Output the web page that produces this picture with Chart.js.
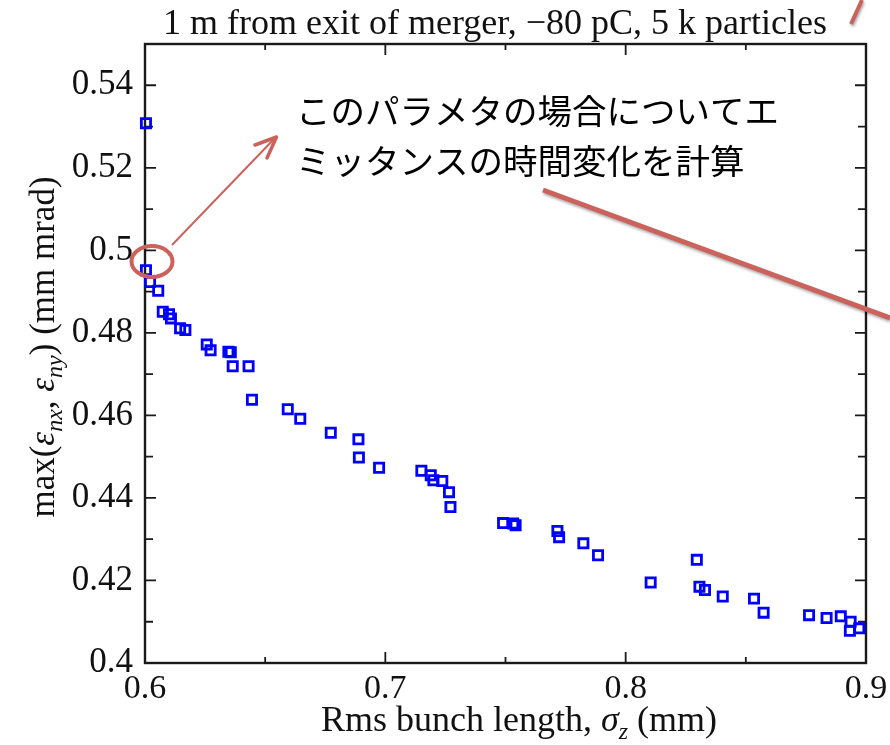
<!DOCTYPE html>
<html>
<head>
<meta charset="utf-8">
<script src="https://cdn.jsdelivr.net/npm/chart.js@4/dist/chart.umd.min.js"></script>
<style>
  html, body { margin: 0; padding: 0; background: #fff; }
  #wrap { width: 890px; height: 745px; }
</style>
</head>
<body>
<div id="wrap"><canvas id="c" width="890" height="745"></canvas></div>
<script>
// Rms bunch length sigma_z (mm) for each simulated parameter set
const sigmaZ = [
  0.6004, 0.6004, 0.6021, 0.6055, 0.6074, 0.6100, 0.6108, 0.6146, 0.6168, 0.6257,
  0.6273, 0.6347, 0.6357, 0.6365, 0.6431, 0.6445, 0.6594, 0.6646, 0.6773, 0.6888,
  0.6890, 0.6974, 0.7150, 0.7189, 0.7200, 0.7237, 0.7265, 0.7271, 0.7490, 0.7532,
  0.7542, 0.7716, 0.7723, 0.7824, 0.7885, 0.8104, 0.8296, 0.8307, 0.8330, 0.8404,
  0.8534, 0.8574, 0.8763, 0.8836, 0.8895, 0.8936, 0.8933, 0.8972
];
// max(eps_nx, eps_ny) in mm mrad for the same parameter sets
const maxEmittance = [
  0.5308, 0.4952, 0.4923, 0.4902, 0.4851, 0.4845, 0.4835, 0.4811, 0.4807, 0.4772,
  0.4758, 0.4754, 0.4753, 0.4719, 0.4719, 0.4638, 0.4615, 0.4592, 0.4558, 0.4542,
  0.4498, 0.4473, 0.4466, 0.4455, 0.4443, 0.4441, 0.4414, 0.4378, 0.4339, 0.4338,
  0.4334, 0.4320, 0.4305, 0.4290, 0.4261, 0.4195, 0.4250, 0.4185, 0.4177, 0.4161,
  0.4156, 0.4122, 0.4116, 0.4109, 0.4113, 0.4100, 0.4078, 0.4084
];

// Axis ticks: labelled majors and unlabelled minors
const xMajor = [0.6, 0.7, 0.8, 0.9];
const xMinor = [0.65, 0.75, 0.85];
const yMajor = [0.4, 0.42, 0.44, 0.46, 0.48, 0.5, 0.52, 0.54];
const yMinor = [0.41, 0.43, 0.45, 0.47, 0.49, 0.51, 0.53];

const chartTitle = '1 m from exit of merger, \u221280 pC, 5 k particles';
const noteLines = ['このパラメタの場合についてエ', 'ミッタンスの時間変化を計算'];

const SERIF = '"Liberation Serif", "DejaVu Serif", serif';
const NOTE_RED = 'rgb(203, 98, 92)';

const points = sigmaZ.map((x, i) => ({ x, y: maxEmittance[i] }));

const isMajor = (list, v) => list.some(m => Math.abs(m - v) < 1e-9);
const fmt = v => String(+v.toFixed(2));

function setTicks(major, minor) {
  return scale => {
    scale.ticks = major.concat(minor).sort((a, b) => a - b).map(v => ({ value: v }));
  };
}

// Boxed frame with inward ticks on all four sides
const frameTicks = {
  id: 'frameTicks',
  beforeDatasetsDraw(chart) {
    const { ctx, chartArea: a, scales: { x, y } } = chart;
    ctx.save();
    ctx.strokeStyle = '#1a1a1a';
    ctx.lineWidth = 1.8;
    ctx.beginPath();
    xMajor.concat(xMinor).forEach(v => {
      const px = x.getPixelForValue(v);
      const L = isMajor(xMajor, v) ? 11 : 6;
      ctx.moveTo(px, a.bottom); ctx.lineTo(px, a.bottom - L);
      ctx.moveTo(px, a.top); ctx.lineTo(px, a.top + L);
    });
    yMajor.concat(yMinor).forEach(v => {
      const py = y.getPixelForValue(v);
      const L = isMajor(yMajor, v) ? 11 : 8;
      ctx.moveTo(a.left, py); ctx.lineTo(a.left + L, py);
      ctx.moveTo(a.right, py); ctx.lineTo(a.right - L, py);
    });
    ctx.stroke();
    ctx.lineWidth = 2.4;
    ctx.strokeRect(a.left, a.top, a.right - a.left, a.bottom - a.top);
    ctx.restore();
  }
};

// Draw a run of text pieces (some italic / subscript) centred on (0,0)
function drawRich(ctx, parts, size) {
  const fontOf = p => `${p.italic ? 'italic ' : ''}${p.sub ? Math.round(size * 0.68) : size}px ${SERIF}`;
  let total = 0;
  parts.forEach(p => { ctx.font = fontOf(p); p.w = ctx.measureText(p.t).width; total += p.w; });
  let cx = -total / 2;
  ctx.textBaseline = 'alphabetic';
  ctx.textAlign = 'left';
  parts.forEach(p => {
    ctx.font = fontOf(p);
    ctx.fillText(p.t, cx, p.sub ? size * 0.22 : 0);
    cx += p.w;
  });
}

// Titles and the slide's callout annotations
const overlay = {
  id: 'overlay',
  afterDraw(chart) {
    const { ctx } = chart;
    ctx.save();
    ctx.fillStyle = '#111';

    // plot title
    ctx.font = `36px ${SERIF}`;
    ctx.textAlign = 'center';
    ctx.textBaseline = 'alphabetic';
    ctx.fillText(chartTitle, 495, 34);

    // x-axis title
    ctx.save();
    ctx.translate(519, 731);
    drawRich(ctx, [
      { t: 'Rms bunch length, ' },
      { t: '\u03c3', italic: true },
      { t: 'z', italic: true, sub: true },
      { t: ' (mm)' }
    ], 36);
    ctx.restore();

    // y-axis title
    ctx.save();
    ctx.translate(54, 347);
    ctx.rotate(-Math.PI / 2);
    drawRich(ctx, [
      { t: 'max(' },
      { t: '\u03b5', italic: true },
      { t: 'nx', italic: true, sub: true },
      { t: ', ' },
      { t: '\u03b5', italic: true },
      { t: 'ny', italic: true, sub: true },
      { t: ') (mm mrad)' }
    ], 35);
    ctx.restore();

    // callout text
    ctx.font = '34.5px "Noto Sans CJK JP", sans-serif';
    ctx.textAlign = 'left';
    ctx.textBaseline = 'middle';
    ctx.fillStyle = '#000';
    ctx.fillText(noteLines[0], 296, 111);
    ctx.fillText(noteLines[1], 296, 161);

    // ellipse around the chosen point
    ctx.strokeStyle = NOTE_RED;
    ctx.lineWidth = 4;
    ctx.beginPath();
    ctx.ellipse(152, 261.5, 20.5, 15.5, 0, 0, Math.PI * 2);
    ctx.stroke();

    // arrow to the callout
    ctx.lineWidth = 2;
    ctx.beginPath();
    ctx.moveTo(172, 245);
    ctx.lineTo(275, 138);
    ctx.stroke();
    ctx.lineWidth = 3.5;
    ctx.lineCap = 'round';
    ctx.lineJoin = 'round';
    ctx.beginPath();
    ctx.moveTo(255, 145);
    ctx.lineTo(276.5, 137);
    ctx.lineTo(267, 158);
    ctx.stroke();

    // long pointer line leaving the plot
    ctx.save();
    ctx.shadowColor = 'rgba(0,0,0,0.35)';
    ctx.shadowBlur = 3;
    ctx.shadowOffsetX = 1;
    ctx.shadowOffsetY = 2;
    ctx.lineWidth = 5;
    ctx.lineCap = 'butt';
    ctx.beginPath();
    ctx.moveTo(543, 190);
    ctx.lineTo(890, 318);
    ctx.stroke();
    ctx.lineWidth = 4;
    ctx.beginPath();
    ctx.moveTo(851, 24);
    ctx.lineTo(862, 0);
    ctx.stroke();
    ctx.restore();

    ctx.restore();
  }
};

new Chart(document.getElementById('c'), {
  type: 'scatter',
  data: {
    datasets: [{
      data: points,
      pointStyle: 'rect',
      radius: 6.5,
      hoverRadius: 6.5,
      borderWidth: 2.8,
      borderColor: '#0000ff',
      backgroundColor: 'rgba(255,255,255,0)',
      clip: false
    }]
  },
  options: {
    responsive: false,
    animation: false,
    events: [],
    layout: { padding: { top: 44, right: 24, left: 0, bottom: 0 } },
    plugins: { legend: { display: false }, tooltip: { enabled: false }, title: { display: false } },
    scales: {
      x: {
        type: 'linear',
        min: 0.6, max: 0.9,
        afterBuildTicks: setTicks(xMajor, xMinor),
        afterFit: s => { s.height = 82; s.paddingLeft = 0; s.paddingRight = 0; },
        grid: { display: false, drawTicks: false },
        border: { display: false },
        ticks: {
          autoSkip: false,
          maxRotation: 0,
          padding: 6,
          color: '#111',
          font: { family: SERIF, size: 34 },
          callback: v => isMajor(xMajor, v) ? fmt(v) : ''
        }
      },
      y: {
        type: 'linear',
        min: 0.4, max: 0.55,
        afterBuildTicks: setTicks(yMajor, yMinor),
        afterFit: s => { s.width = 145; s.paddingTop = 0; s.paddingBottom = 0; },
        grid: { display: false, drawTicks: false },
        border: { display: false },
        ticks: {
          autoSkip: false,
          padding: 12,
          color: '#111',
          font: { family: SERIF, size: 35 },
          callback: v => isMajor(yMajor, v) ? fmt(v) : ''
        }
      }
    }
  },
  plugins: [frameTicks, overlay]
});
</script>
</body>
</html>
